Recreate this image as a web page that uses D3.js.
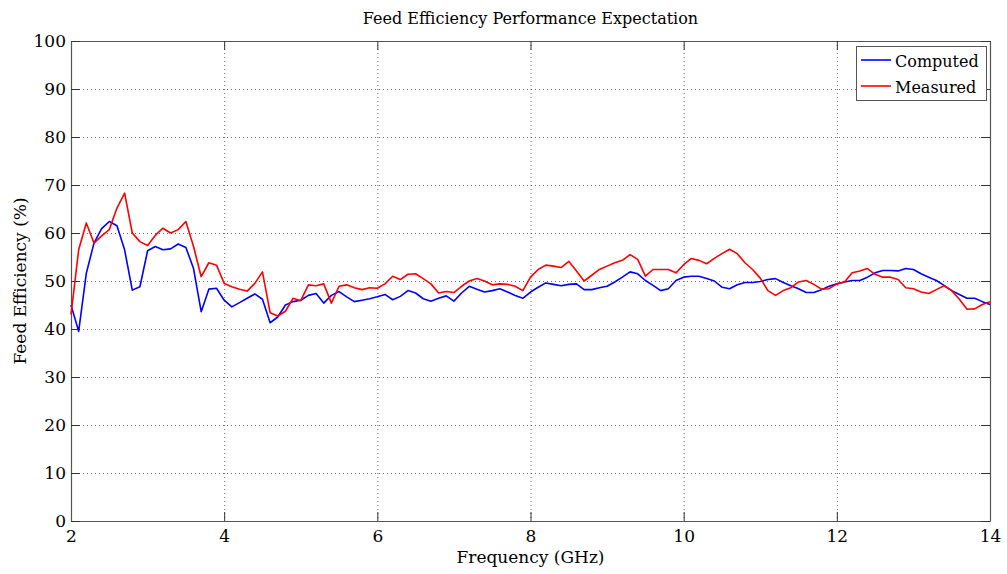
<!DOCTYPE html>
<html><head><meta charset="utf-8">
<script src="https://cdn.jsdelivr.net/npm/d3@7"></script>
<style>
html,body{margin:0;padding:0;background:#fff;}
svg{display:block;font-family:"DejaVu Serif",serif;}
</style></head>
<body><svg id="chart" width="1007" height="574"></svg>
<script>
const title = "Feed Efficiency Performance Expectation";
const xLabel = "Frequency (GHz)";
const yLabel = "Feed Efficiency (%)";
const seriesNames = ["Computed", "Measured"];
const xTicks = [2, 4, 6, 8, 10, 12, 14];
const yTicks = [0, 10, 20, 30, 40, 50, 60, 70, 80, 90, 100];
const freq = [2.0,2.1,2.2,2.3,2.4,2.5,2.6,2.7,2.8,2.9,3.0,3.1,3.2,3.3,3.4,3.5,3.6,3.7,3.8,3.9,
4.0,4.1,4.2,4.3,4.4,4.5,4.6,4.7,4.8,4.9,5.0,5.1,5.2,5.3,5.4,5.5,5.6,5.7,5.8,5.9,
6.0,6.1,6.2,6.3,6.4,6.5,6.6,6.7,6.8,6.9,7.0,7.1,7.2,7.3,7.4,7.5,7.6,7.7,7.8,7.9,
8.0,8.1,8.2,8.3,8.4,8.5,8.6,8.7,8.8,8.9,9.0,9.1,9.2,9.3,9.4,9.5,9.6,9.7,9.8,9.9,
10.0,10.1,10.2,10.3,10.4,10.5,10.6,10.7,10.8,10.9,11.0,11.1,11.2,11.3,11.4,11.5,11.6,11.7,11.8,11.9,
12.0,12.1,12.2,12.3,12.4,12.5,12.6,12.7,12.8,12.9,13.0,13.1,13.2,13.3,13.4,13.5,13.6,13.7,13.8,13.9,14.0];
const computed = [45.0,39.5,51.6,57.9,60.9,62.4,61.5,56.5,48.1,48.8,56.3,57.2,56.5,56.7,57.7,57.0,52.6,43.6,48.3,48.5,
46.0,44.6,45.5,46.4,47.3,46.2,41.3,42.5,45.0,45.7,46.0,47.0,47.4,45.4,47.0,47.8,46.7,45.7,46.0,46.3,
46.7,47.2,46.1,46.8,48.0,47.5,46.3,45.8,46.4,46.9,45.8,47.5,48.9,48.3,47.7,48.0,48.4,47.7,47.0,46.4,
47.7,48.7,49.6,49.3,49.0,49.3,49.4,48.2,48.2,48.6,48.9,49.8,50.8,51.9,51.5,50.1,49.1,48.0,48.4,50.1,
50.8,51.0,51.0,50.5,50.0,48.7,48.4,49.2,49.7,49.7,49.9,50.3,50.5,49.7,49.0,48.4,47.6,47.6,48.2,48.9,
49.4,49.8,50.1,50.1,50.8,51.7,52.2,52.2,52.1,52.6,52.4,51.5,50.8,50.1,49.1,48.0,47.2,46.4,46.4,45.7,45.1];
const measured = [43.0,56.5,62.1,57.9,59.4,60.7,65.2,68.3,60.0,58.2,57.4,59.5,61.0,60.0,60.7,62.4,57.2,50.9,53.8,53.3,
49.5,48.8,48.3,47.9,49.5,51.9,43.4,42.7,43.7,46.4,45.9,49.2,49.0,49.4,45.4,48.9,49.2,48.6,48.2,48.6,
48.5,49.4,51.0,50.3,51.4,51.5,50.5,49.4,47.5,47.8,47.6,48.9,50.0,50.5,50.0,49.2,49.4,49.3,48.9,48.0,
50.8,52.4,53.3,53.1,52.8,54.1,52.1,50.0,51.2,52.4,53.1,53.8,54.3,55.5,54.5,51.0,52.4,52.4,52.4,51.7,
53.4,54.7,54.3,53.6,54.7,55.7,56.6,55.7,53.8,52.4,50.6,48.0,47.0,48.0,48.6,49.8,50.1,49.3,48.3,48.4,
49.4,49.8,51.7,52.1,52.6,51.4,50.8,50.8,50.3,48.6,48.4,47.7,47.4,48.2,49.0,48.0,46.2,44.1,44.2,45.1,45.7];
const colors = ["#0000ff", "#ff0000"];

const svg = d3.select("#chart");
const m = {left: 71, right: 990, top: 41, bottom: 521};
const x = d3.scaleLinear().domain([2, 14]).range([m.left, m.right]);
const y = d3.scaleLinear().domain([0, 100]).range([m.bottom, m.top]);

// grid
const grid = svg.append("g");
grid.selectAll(".gx").data(xTicks.slice(1, -1)).enter().append("line")
  .attr("x1", d => x(d) + 0.5).attr("x2", d => x(d) + 0.5)
  .attr("y1", m.top).attr("y2", m.bottom)
  .attr("stroke", "#6a6a6a").attr("stroke-width", 1).attr("stroke-dasharray", "1,3");
grid.selectAll(".gy").data(yTicks.slice(1, -1)).enter().append("line")
  .attr("y1", d => Math.round(y(d)) + 0.5).attr("y2", d => Math.round(y(d)) + 0.5)
  .attr("x1", m.left).attr("x2", m.right)
  .attr("stroke", "#6a6a6a").attr("stroke-width", 1).attr("stroke-dasharray", "1,3");

// axes
const axFont = g => g.selectAll("text").attr("font-family", "DejaVu Serif").attr("font-size", 17).attr("fill", "#000");
const xb = svg.append("g").attr("transform", `translate(0,${m.bottom})`)
  .call(d3.axisBottom(x).tickValues(xTicks).tickFormat(d3.format("d")).tickSizeInner(-9).tickSizeOuter(0).tickPadding(9));
const xt = svg.append("g").attr("transform", `translate(0,${m.top})`)
  .call(d3.axisTop(x).tickValues(xTicks).tickFormat("").tickSizeInner(-9).tickSizeOuter(0));
const yl = svg.append("g").attr("transform", `translate(${m.left},0)`)
  .call(d3.axisLeft(y).tickValues(yTicks).tickFormat(d3.format("d")).tickSizeInner(-9).tickSizeOuter(0).tickPadding(5));
const yr = svg.append("g").attr("transform", `translate(${m.right},0)`)
  .call(d3.axisRight(y).tickValues(yTicks).tickFormat("").tickSizeInner(-9).tickSizeOuter(0));
[xb, xt, yl, yr].forEach(g => {
  g.select(".domain").attr("stroke", "#555").attr("stroke-width", 1.2);
  g.selectAll(".tick line").attr("stroke", "#333");
  axFont(g);
});

// lines
const line = d3.line().x((d, i) => x(freq[i])).y(d => y(d));
[computed, measured].forEach((s, k) => {
  svg.append("path").datum(s).attr("d", line)
    .attr("fill", "none").attr("stroke", colors[k]).attr("stroke-width", 1.6)
    .attr("stroke-linejoin", "round");
});

// title and labels
svg.append("text").attr("x", (m.left + m.right) / 2).attr("y", 24)
  .attr("text-anchor", "middle").attr("font-size", 16).text(title);
svg.append("text").attr("x", (m.left + m.right) / 2).attr("y", 563)
  .attr("text-anchor", "middle").attr("font-size", 17).text(xLabel);
svg.append("text").attr("transform", "translate(26,281) rotate(-90)")
  .attr("text-anchor", "middle").attr("font-size", 17).text(yLabel);

// legend
const lg = svg.append("g");
lg.append("rect").attr("x", 856.5).attr("y", 46.5).attr("width", 130).attr("height", 54)
  .attr("fill", "#fff").attr("stroke", "#555").attr("stroke-width", 1);
seriesNames.forEach((n, k) => {
  const cy = 60 + k * 26;
  lg.append("line").attr("x1", 861).attr("x2", 891).attr("y1", cy).attr("y2", cy)
    .attr("stroke", colors[k]).attr("stroke-width", 1.6);
  lg.append("text").attr("x", 895).attr("y", cy + 7).attr("font-size", 16).text(n);
});
</script></body></html>
